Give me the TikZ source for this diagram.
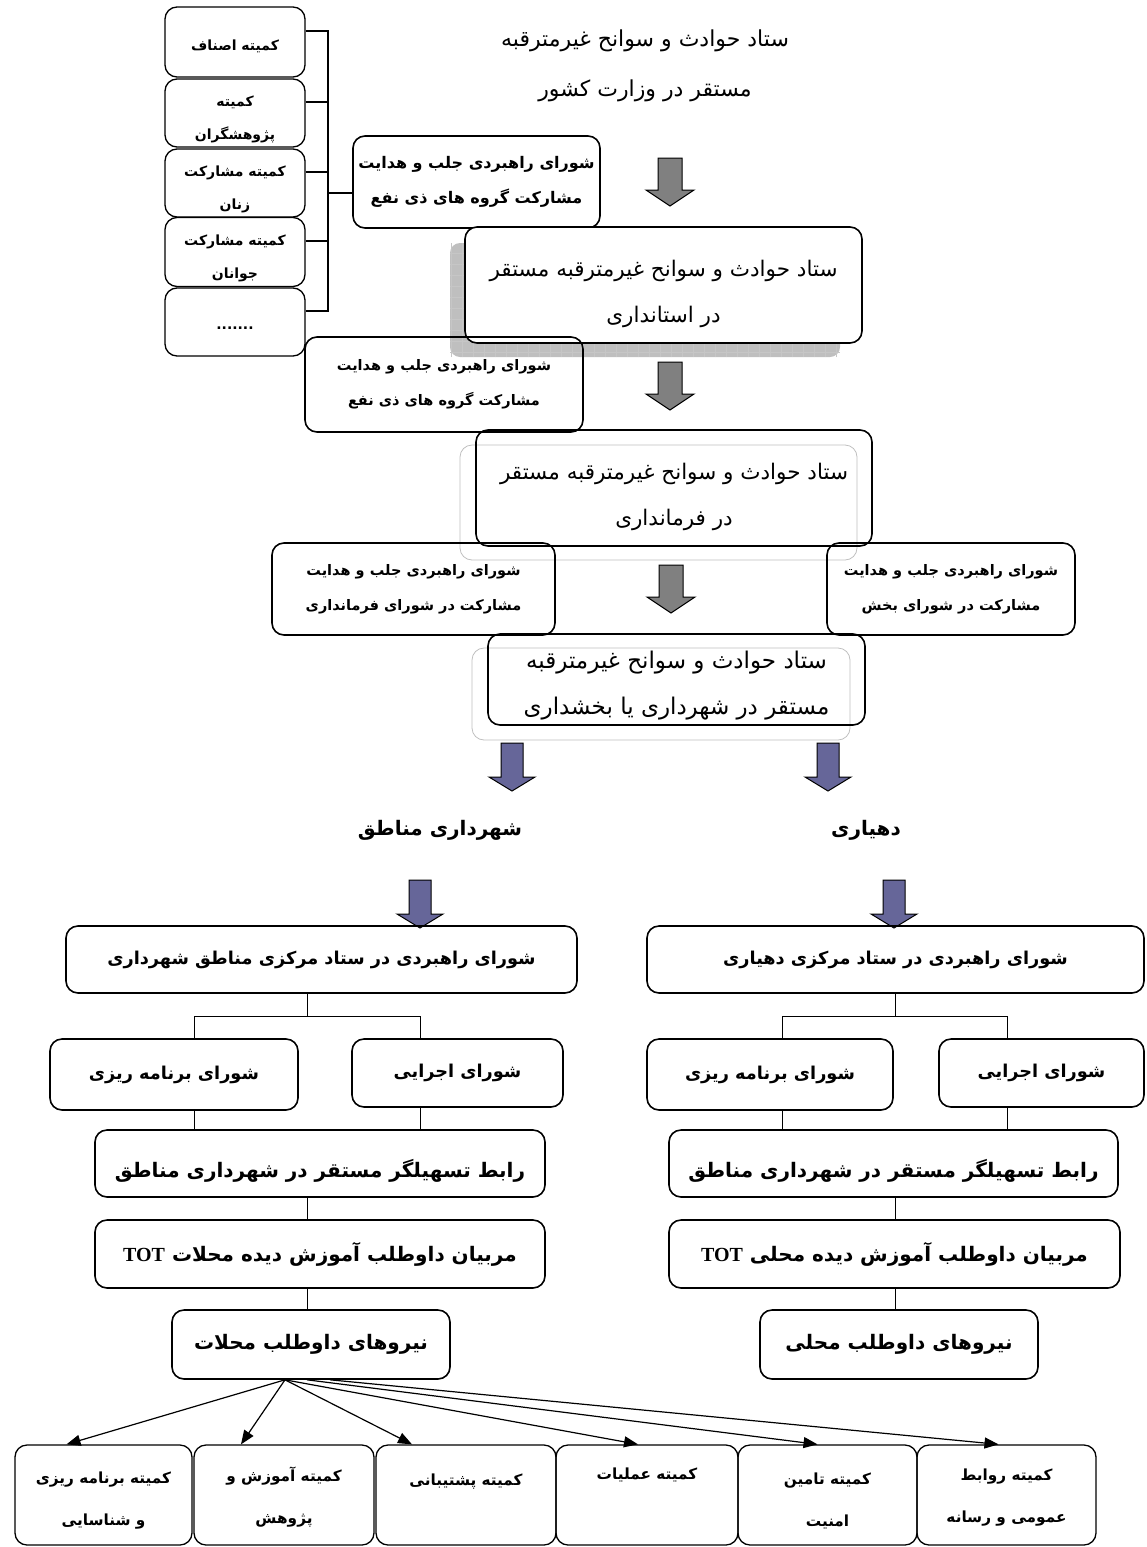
\documentclass[tikz,border=0pt]{standalone}
\usepackage{fontspec}
\usetikzlibrary{arrows.meta}
\newfontfamily\arabicfont[Script=Arabic]{DejaVu Sans}
\newfontfamily\latinfont{Liberation Serif}
\TeXXeTstate=1
\newcommand\tot{\beginL{\latinfont\bfseries TOT}\endL}
\definecolor{arrowgray}{RGB}{128,128,128}
\definecolor{arrowblue}{RGB}{102,102,153}

\begin{document}
\begin{tikzpicture}[x=1pt, y=-1pt,
  box/.style={draw, rounded corners=12pt, line width=1.6pt, align=center, inner sep=0pt},
  comm/.style={box, line width=1.3pt, minimum width=140pt},
  commlab/.style={align=center, yshift=-6pt, font=\arabicfont\bfseries\fontsize{14}{33}\selectfont},
  council/.style={box, font=\arabicfont\bfseries\fontsize{14.5}{35}\selectfont},
  hq/.style={box},
  hqlab/.style={align=center, yshift=-9pt, font=\arabicfont\fontsize{21.5}{46}\selectfont},
  tree/.style={box, font=\arabicfont\bfseries\fontsize{17.7}{40}\selectfont},
  treebig/.style={box, font=\arabicfont\bfseries\fontsize{20}{40}\selectfont},
  treelab/.style={align=center, yshift=-7pt, font=\arabicfont\bfseries\fontsize{20}{40}\selectfont},
  sub/.style={box, line width=1.3pt, minimum height=100pt},
  sublab/.style={align=center, yshift=-6pt, font=\arabicfont\bfseries\fontsize{15.3}{42}\selectfont},
  link/.style={line width=0.8pt},
  garrow/.pic={\draw[line width=1pt, fill=arrowgray] (-12,0) -- (-12,32) -- (-24,32) -- (0,48) -- (24,32) -- (12,32) -- (12,0) -- cycle;},
  barrow/.pic={\draw[line width=1pt, fill=arrowblue] (-11,0) -- (-11,34) -- (-23,34) -- (0,48) -- (23,34) -- (11,34) -- (11,0) -- cycle;}]
\useasboundingbox (0,0) rectangle (1146,1547);

\node[comm, minimum height=70pt, label={[commlab, yshift=2pt]center:\beginR کمیته اصناف\endR}] (k1) at (235,42) {};
\node[comm, minimum height=68pt, label={[commlab]center:{\beginR کمیته\endR\\\beginR پژوهشگران\endR}}] (k2) at (235,113) {};
\node[comm, minimum height=68pt, label={[commlab]center:{\beginR کمیته مشارکت\endR\\\beginR زنان\endR}}] (k3) at (235,183) {};
\node[comm, minimum height=69pt, label={[commlab]center:{\beginR کمیته مشارکت\endR\\\beginR جوانان\endR}}] (k4) at (235,252) {};
\node[comm, minimum height=68pt, label={[commlab]center:.......}] (k5) at (235,322) {};
\coordinate (bx) at (328,32);
\coordinate (by) at (328,311);
\foreach \k in {k1,k2,k3,k4,k5}
  \draw[line width=1.2pt] ([yshift=11pt]\k.east) -- ++(23,0);
\draw[line width=1.2pt] (bx) -- (by);

\node[font=\arabicfont\fontsize{22}{50}\selectfont, align=center] (title) at (645,66)
  {\beginR ستاد حوادث و سوانح غیرمترقبه\endR\\\beginR مستقر در وزارت کشور\endR};

\node[council, font=\arabicfont\bfseries\fontsize{16}{35}\selectfont, minimum width=247pt, minimum height=92pt] (cA) at (476.5,182)
  {\beginR شورای راهبردی جلب و هدایت\endR\\\beginR مشارکت گروه های ذی نفع\endR};
\draw[line width=1.2pt] ([yshift=-11pt]cA.west) -- ++(-25,0);
\pic at (670,158) {garrow};

\fill[gray!50, rounded corners=10pt] (450,243) rectangle (840,357);
\draw[white!55!gray, line width=0.6pt, step=11pt] (450,243) grid (840,357);
\node[hq, fill=white, minimum width=397pt, minimum height=116pt,
  label={[hqlab]center:{\beginR ستاد حوادث و سوانح غیرمترقبه مستقر\endR\\\beginR در استانداری\endR}}] (ost) at (663.5,285) {};
\node[council, minimum width=278pt, minimum height=95pt] (cB) at (444,384.5)
  {\beginR شورای راهبردی جلب و هدایت\endR\\\beginR مشارکت گروه های ذی نفع\endR};
\pic at (670,362) {garrow};

\draw[gray!50, line width=0.8pt, rounded corners=12pt] (460,445) rectangle (857,560);
\node[hq, minimum width=396pt, minimum height=116pt,
  label={[hqlab]center:{\beginR ستاد حوادث و سوانح غیرمترقبه مستقر\endR\\\beginR در فرمانداری\endR}}] (farm) at (674,488) {};
\node[council, minimum width=283pt, minimum height=92pt] (cC) at (413.5,589)
  {\beginR شورای راهبردی جلب و هدایت\endR\\\beginR مشارکت در شورای فرمانداری\endR};
\node[council, minimum width=248pt, minimum height=92pt] (cD) at (951,589)
  {\beginR شورای راهبردی جلب و هدایت\endR\\\beginR مشارکت در شورای بخش\endR};
\pic at (671,565) {garrow};

\draw[gray!50, line width=0.8pt, rounded corners=12pt] (472,648) rectangle (850,740);
\node[hq, minimum width=377pt, minimum height=91pt,
  label={[hqlab, yshift=3pt, font=\arabicfont\fontsize{23}{46}\selectfont]center:{\beginR ستاد حوادث و سوانح غیرمترقبه\endR\\\beginR مستقر در شهرداری یا بخشداری\endR}}] (shah) at (676.5,679.5) {};
\pic at (512,743) {barrow};
\pic at (828,743) {barrow};

\node[font=\arabicfont\bfseries\fontsize{20}{24}\selectfont] (mun) at (440,830) {\beginR شهرداری مناطق\endR};
\node[font=\arabicfont\bfseries\fontsize{20}{24}\selectfont] (vil) at (866,830) {\beginR دهیاری\endR};
\pic at (420,880) {barrow};
\pic at (894,880) {barrow};

\node[tree, minimum width=511pt, minimum height=67pt] (sL) at (321.5,959.5)
  {\beginR شورای راهبردی در ستاد مرکزی مناطق شهرداری\endR};
\node[tree, minimum width=497pt, minimum height=67pt] (sR) at (895.5,959.5)
  {\beginR شورای راهبردی در ستاد مرکزی دهیاری\endR};
\node[tree, minimum width=248pt, minimum height=71pt] (pL) at (174,1074.5) {\beginR شورای برنامه ریزی\endR};
\node[tree, minimum width=211pt, minimum height=68pt] (eL) at (457.5,1073) {\beginR شورای اجرایی\endR};
\node[tree, minimum width=246pt, minimum height=71pt] (pR) at (770,1074.5) {\beginR شورای برنامه ریزی\endR};
\node[tree, minimum width=205pt, minimum height=68pt] (eR) at (1041.5,1073) {\beginR شورای اجرایی\endR};
\node[box, minimum width=450pt, minimum height=67pt,
  label={[treelab]center:\beginR رابط تسهیلگر مستقر در شهرداری مناطق\endR}] (rL) at (320,1163.5) {};
\node[box, minimum width=449pt, minimum height=67pt,
  label={[treelab]center:\beginR رابط تسهیلگر مستقر در شهرداری مناطق\endR}] (rR) at (893.5,1163.5) {};
\node[treebig, minimum width=450pt, minimum height=68pt] (tL) at (320,1254)
  {\beginR مربیان داوطلب آموزش دیده محلات \tot\endR};
\node[treebig, minimum width=451pt, minimum height=68pt] (tR) at (894.5,1254)
  {\beginR مربیان داوطلب آموزش دیده محلی \tot\endR};
\node[treebig, minimum width=278pt, minimum height=69pt] (nL) at (311,1344.5) {\beginR نیروهای داوطلب محلات\endR};
\node[treebig, minimum width=278pt, minimum height=69pt] (nR) at (899,1344.5) {\beginR نیروهای داوطلب محلی\endR};

\coordinate (jL) at (307,1016);
\coordinate (aL) at (194,1016);
\coordinate (bL) at (420,1016);
\coordinate (jR) at (895,1016);
\coordinate (aR) at (782,1016);
\coordinate (bR) at (1007,1016);
\draw[link] (jL |- sL.south) -- (jL);
\draw[link] (aL) -- (bL);
\draw[link] (aL) -- (aL |- pL.north);
\draw[link] (bL) -- (bL |- eL.north);
\draw[link] (aL |- pL.south) -- (aL |- rL.north);
\draw[link] (bL |- eL.south) -- (bL |- rL.north);
\draw[link] (jL |- rL.south) -- (jL |- tL.north);
\draw[link] (jL |- tL.south) -- (jL |- nL.north);
\draw[link] (jR |- sR.south) -- (jR);
\draw[link] (aR) -- (bR);
\draw[link] (aR) -- (aR |- pR.north);
\draw[link] (bR) -- (bR |- eR.north);
\draw[link] (aR |- pR.south) -- (aR |- rR.north);
\draw[link] (bR |- eR.south) -- (bR |- rR.north);
\draw[link] (jR |- rR.south) -- (jR |- tR.north);
\draw[link] (jR |- tR.south) -- (jR |- nR.north);

\node[sub, minimum width=177pt, label={[sublab]center:{\beginR کمیته برنامه ریزی\endR\\\beginR و شناسایی\endR}}] (c1) at (103.5,1495) {};
\node[sub, minimum width=180pt, label={[sublab, yshift=4pt]center:{\beginR کمیته آموزش و\endR\\\beginR پژوهش\endR}}] (c2) at (284,1495) {};
\node[sub, minimum width=180pt, label={[sublab]center:{\beginR کمیته پشتیبانی\endR\\\mbox{}}}] (c3) at (466,1495) {};
\node[sub, minimum width=182pt, label={[sublab, yshift=6pt]center:{\beginR کمیته عملیات\endR\\\mbox{}}}] (c4) at (647,1495) {};
\node[sub, minimum width=179pt, label={[sublab]center:{\beginR کمیته  تامین\endR\\\beginR امنیت\endR}}] (c5) at (827.5,1495) {};
\node[sub, minimum width=179pt, label={[sublab, yshift=3pt]center:{\beginR کمیته روابط\endR\\\beginR عمومی و رسانه\endR}}] (c6) at (1006.5,1495) {};

\coordinate (o) at ([xshift=-26pt]nL.south);
\coordinate (o2) at ([xshift=-4pt]nL.south);
\coordinate (o3) at ([xshift=19pt]nL.south);
\draw[line width=1.2pt, -{Triangle[length=14pt, width=11pt]}] (o) -- ([xshift=-37pt]c1.north);
\draw[line width=1.2pt, -{Triangle[length=14pt, width=11pt]}] (o) -- ([xshift=-43pt]c2.north);
\draw[line width=1.2pt, -{Triangle[length=14pt, width=11pt]}] (o) -- ([xshift=-54pt]c3.north);
\draw[line width=1.2pt, -{Triangle[length=14pt, width=11pt]}] (o) -- ([xshift=-9pt]c4.north);
\draw[line width=1.2pt, -{Triangle[length=14pt, width=11pt]}] (o2) -- ([xshift=-10pt]c5.north);
\draw[line width=1.2pt, -{Triangle[length=14pt, width=11pt]}] (o3) -- ([xshift=-8pt]c6.north);
\end{tikzpicture}
\end{document}
